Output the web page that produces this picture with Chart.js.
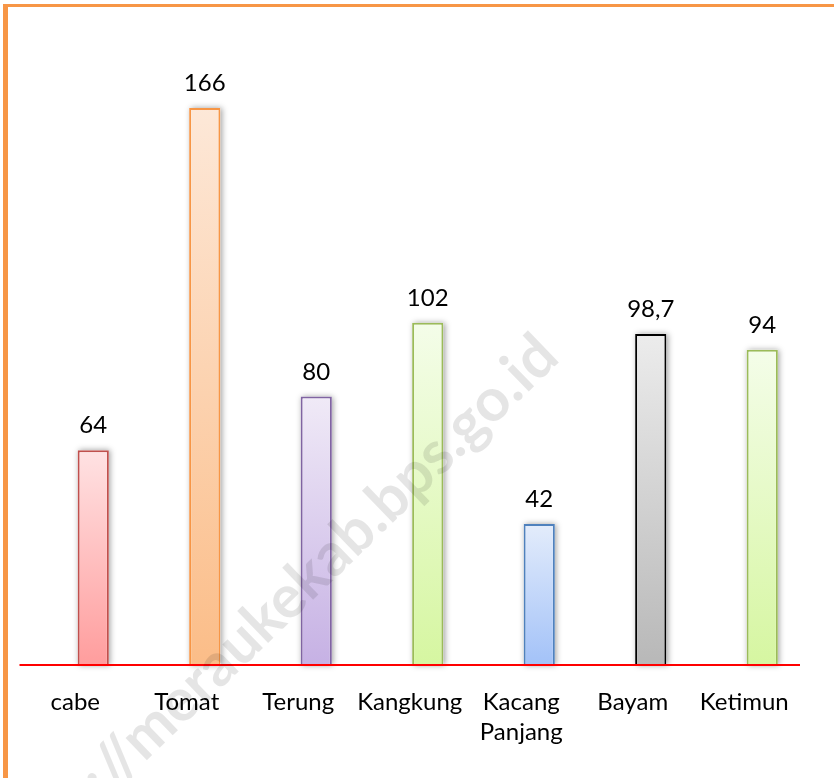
<!DOCTYPE html>
<html>
<head>
<meta charset="utf-8">
<script src="https://cdn.jsdelivr.net/npm/chart.js@4.4.0/dist/chart.umd.min.js"></script>
<style>
  html, body { margin: 0; padding: 0; background: #fff; }
  #wrap { width: 834px; height: 778px; position: relative; }
</style>
</head>
<body>
<div id="wrap"><canvas id="chart" width="834" height="778"></canvas></div>
<script>
// ==============================================================
// DATA
// ==============================================================
const categories = ['cabe', 'Tomat', 'Terung', 'Kangkung', ['Kacang', 'Panjang'], 'Bayam', 'Ketimun'];
const values = [64, 166, 80, 102, 42, 98.7, 94];

// warna tiap batang (atas terang -> bawah gelap)
const topColors = ['#ffe2e3', '#fde8d8', '#f0eaf7', '#f4fde9', '#e3ecfb', '#ececec', '#f4fde9'];
const bottomColors = ['#ff9d9d', '#fbbd88', '#c6b1e4', '#d6f6a1', '#a3c2f8', '#b8b8b8', '#d6f6a1'];
const borderColors = ['#c0504d', '#f79646', '#8064a2', '#9bbb59', '#4f81bd', '#000000', '#9bbb59'];

const FONT = 'Lato, "Open Sans", sans-serif';

// gradient per batang, dari puncak ke garis dasar
function barGradient(c) {
  const chart = c.chart;
  const y = chart.scales.y;
  const i = c.dataIndex;
  if (!y || i === undefined) return bottomColors[0];
  const top = y.getPixelForValue(values[i]);
  const base = y.getPixelForValue(0);
  if (!isFinite(top) || !isFinite(base)) return bottomColors[i];
  const g = chart.ctx.createLinearGradient(0, top, 0, base);
  g.addColorStop(0, topColors[i]);
  g.addColorStop(1, bottomColors[i]);
  return g;
}

// bingkai oranye
const framePlugin = {
  id: 'frame',
  beforeDraw(chart) {
    const ctx = chart.ctx;
    ctx.save();
    ctx.fillStyle = '#f79646';
    ctx.fillRect(3, 4, 5, 774);
    ctx.fillRect(3, 4, 831, 3);
    ctx.restore();
  }
};

// bayangan abu-abu di belakang batang
const shadowPlugin = {
  id: 'barShadow',
  beforeDatasetsDraw(chart) {
    const ctx = chart.ctx;
    const meta = chart.getDatasetMeta(0);
    ctx.save();
    ctx.shadowColor = 'rgba(0,0,0,0.38)';
    ctx.shadowBlur = 6;
    ctx.shadowOffsetX = 1.5;
    ctx.fillStyle = '#ffffff';
    meta.data.forEach(bar => {
      const w = bar.width;
      ctx.fillRect(bar.x - w / 2, bar.y, w, bar.base - bar.y);
    });
    ctx.restore();
  }
};

// garis merah + angka di atas batang
const labelPlugin = {
  id: 'valueLabels',
  afterDatasetsDraw(chart) {
    const ctx = chart.ctx;
    const area = chart.chartArea;
    const y0 = chart.scales.y.getPixelForValue(0);
    ctx.save();
    ctx.strokeStyle = '#ff0000';
    ctx.lineWidth = 2;
    ctx.beginPath();
    ctx.moveTo(area.left - 18, y0);
    ctx.lineTo(area.right - 18, y0);
    ctx.stroke();

    ctx.fillStyle = '#000';
    ctx.font = '24px ' + FONT;
    ctx.textAlign = 'center';
    ctx.textBaseline = 'alphabetic';
    chart.getDatasetMeta(0).data.forEach((bar, i) => {
      ctx.fillText(String(values[i]).replace('.', ','), bar.x, bar.y - 17);
    });
    ctx.restore();
  }
};

// watermark
const watermarkPlugin = {
  id: 'watermark',
  afterDraw(chart) {
    const ctx = chart.ctx;
    ctx.save();
    ctx.translate(548, 346);
    ctx.rotate(-44 * Math.PI / 180);
    ctx.font = 'bold 60px ' + FONT;
    ctx.fillStyle = 'rgba(0,0,0,0.1)';
    ctx.textAlign = 'right';
    ctx.textBaseline = 'middle';
    ctx.fillText('https://meraukekab.bps.go.id', 0, 0);
    ctx.restore();
  }
};

new Chart(document.getElementById('chart'), {
  type: 'bar',
  data: {
    labels: categories,
    datasets: [{
      data: values,
      backgroundColor: barGradient,
      borderColor: borderColors,
      borderWidth: 2,
      borderSkipped: 'bottom',
      barPercentage: 0.28,
      categoryPercentage: 1
    }]
  },
  options: {
    responsive: false,
    animation: false,
    layout: { padding: { left: 37.5, right: 16, top: 40, bottom: 9 } },
    plugins: { legend: { display: false }, tooltip: { enabled: false } },
    scales: {
      x: {
        grid: { display: false, drawTicks: false, tickLength: 0 },
        border: { display: false },
        ticks: {
          color: '#000',
          font: { family: FONT, size: 24, lineHeight: 1.25 },
          padding: 22,
          labelOffset: -18,
          maxRotation: 0,
          autoSkip: false
        }
      },
      y: { display: false, min: 0, max: 186.3 }
    }
  },
  plugins: [framePlugin, shadowPlugin, labelPlugin, watermarkPlugin]
});
</script>
</body>
</html>
